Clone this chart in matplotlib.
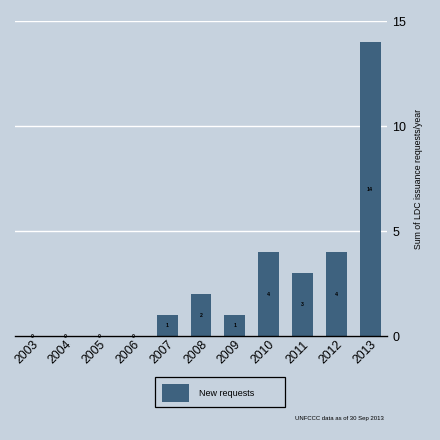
import matplotlib
matplotlib.use("Agg")
import matplotlib.pyplot as plt
from matplotlib.patches import Rectangle

years  = [2003, 2004, 2005, 2006, 2007, 2008, 2009, 2010, 2011, 2012, 2013]
values = [0, 0, 0, 0, 1, 2, 1, 4, 3, 4, 14]
yticks = [0, 5, 10, 15]

BG  = "#C6D2DE"
BAR = "#3E627F"

plt.rcParams["font.family"] = ["Liberation Sans", "DejaVu Sans"]

fig = plt.figure(figsize=(4.4, 4.4), dpi=100, facecolor=BG)
ax = fig.add_axes([15 / 440, 1 - 336 / 440, 372 / 440, 315 / 440])
ax.set_facecolor(BG)

ax.bar(years, values, width=0.62, color=BAR, zorder=3)
for x, v in zip(years, values):
    ax.text(x, v / 2, str(v), ha="center", va="center", fontsize=3.8,
            fontweight="bold", color="black", zorder=6)

ax.set_xlim(2002.5, 2013.5)
ax.set_ylim(0, 15)
ax.set_yticks(yticks)
ax.yaxis.tick_right()
ax.yaxis.set_label_position("right")
ax.grid(axis="y", color="white", linewidth=1.0, zorder=1)
ax.tick_params(axis="y", length=0, pad=4, labelsize=9)
ax.set_ylabel("Sum of LDC issuance requests/year", fontsize=6.3, labelpad=5)

ax.set_xticks(years)
ax.set_xticklabels([str(y) for y in years], rotation=45, ha="right",
                   va="top", rotation_mode="anchor", fontsize=8.8)
ax.tick_params(axis="x", length=0, pad=2)

for s in ["top", "left", "right"]:
    ax.spines[s].set_visible(False)
ax.spines["bottom"].set_color("black")
ax.spines["bottom"].set_linewidth(1.0)
ax.spines["bottom"].set_zorder(5)

# legend box
fig.add_artist(Rectangle((155 / 440, 1 - 407 / 440), 130 / 440, 30 / 440,
                         transform=fig.transFigure, facecolor=BG,
                         edgecolor="black", linewidth=0.9))
fig.add_artist(Rectangle((162 / 440, 1 - 402 / 440), 27 / 440, 18 / 440,
                         transform=fig.transFigure, facecolor=BAR,
                         edgecolor="none"))
fig.text(199 / 440, 1 - 393 / 440, "New requests", fontsize=6.5,
         ha="left", va="center")

fig.text(384 / 440, 1 - 418 / 440, "UNFCCC data as of 30 Sep 2013",
         fontsize=4.3, ha="right", va="center")

fig.savefig("out.png", dpi=100, facecolor=BG)
